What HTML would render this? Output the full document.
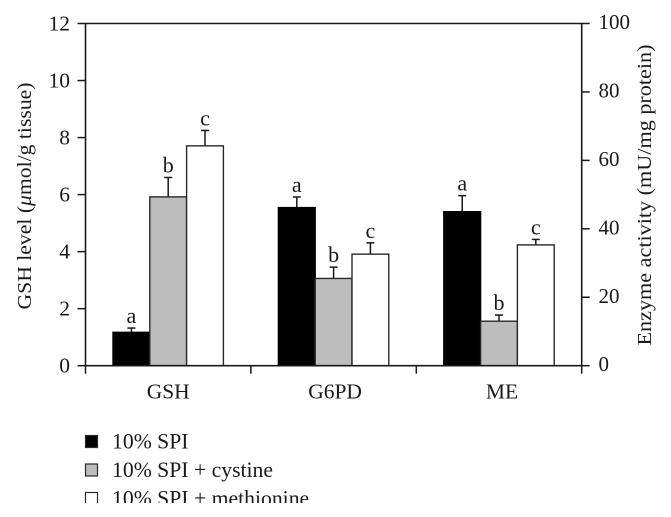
<!DOCTYPE html>
<html>
<head>
<meta charset="utf-8">
<style>
html,body{margin:0;padding:0;background:#fff}
svg{display:block}
text{font-family:"Liberation Serif",serif;fill:#1a1a1a}
</style>
</head>
<body>
<svg id="chart" width="671" height="517" viewBox="0 0 671 517" xmlns="http://www.w3.org/2000/svg">
<defs><clipPath id="legend-clip"><rect x="0" y="420" width="671" height="83"/></clipPath></defs>
<rect x="0" y="0" width="671" height="517" fill="#fff"/>
<text transform="translate(31,196) rotate(-90)" text-anchor="middle" font-size="20.5" textLength="227" lengthAdjust="spacingAndGlyphs">GSH level (<tspan font-style="italic">μ</tspan>mol/g tissue)</text>
<text transform="translate(651,195) rotate(-90)" text-anchor="middle" font-size="20.5" textLength="301" lengthAdjust="spacingAndGlyphs">Enzyme activity (mU/mg protein)</text>
<g id="marks"></g>
<g id="axes"></g>
<g id="legend" clip-path="url(#legend-clip)"></g>
</svg>
<script>
const categories = ["GSH", "G6PD", "ME"];
const seriesNames = ["10% SPI", "10% SPI + cystine", "10% SPI + methionine"];
const spiValues = [1.17, 46.2, 45];
const cystineValues = [5.92, 25.5, 13];
const methionineValues = [7.71, 32.6, 35.3];
const spiErrors = [0.15, 3.1, 4.7];
const cystineErrors = [0.68, 3.3, 1.8];
const methionineErrors = [0.54, 3.3, 1.6];
const spiLetters = ["a", "a", "a"];
const cystineLetters = ["b", "b", "b"];
const methionineLetters = ["c", "c", "c"];
const leftTicks = [0, 2, 4, 6, 8, 10, 12];
const rightTicks = [0, 20, 40, 60, 80, 100];

const NS = "http://www.w3.org/2000/svg";
const plot = {left: 85.5, right: 581.7, top: 23.5, bottom: 365.7};
const ink = "#1a1a1a";
const fills = ["#000000", "#bdbdbd", "#ffffff"];
const barWidth = 36.8;
const leftMax = 12, rightMax = 100;
const categoryLabelShift = [0, 1.5, 3];

function yLeft(v) { return plot.bottom - (v / leftMax) * (plot.bottom - plot.top); }
function yRight(v) { return plot.bottom - (v / rightMax) * (plot.bottom - plot.top); }
function yFor(groupIndex, v) { return groupIndex === 0 ? yLeft(v) : yRight(v); }
function bandWidth() { return (plot.right - plot.left) / categories.length; }
function xCenter(groupIndex) { return plot.left + bandWidth() * (groupIndex + 0.5); }
function xBar(groupIndex, seriesIndex) { return xCenter(groupIndex) + (seriesIndex - 1.5) * barWidth; }

function make(tag, attrs, parent, txt) {
  const el = document.createElementNS(NS, tag);
  for (const k in attrs) el.setAttribute(k, attrs[k]);
  if (txt !== undefined) el.textContent = txt;
  parent.appendChild(el);
  return el;
}

const marks = document.getElementById("marks");
const axes = document.getElementById("axes");
const legend = document.getElementById("legend");

const allValues = [spiValues, cystineValues, methionineValues];
const allErrors = [spiErrors, cystineErrors, methionineErrors];
const allLetters = [spiLetters, cystineLetters, methionineLetters];

allValues.forEach(function (values, s) {
  values.forEach(function (v, g) {
    const x = xBar(g, s);
    const yTop = yFor(g, v);
    const yErr = yFor(g, v + allErrors[s][g]);
    const cx = x + barWidth / 2;

    const stem = make("line", {x1: cx, x2: cx, y1: yTop, y2: yErr, stroke: ink, "stroke-width": 1.5}, marks);
    
    

    const cap = make("line", {x1: cx - 4, x2: cx + 4, y1: yErr, y2: yErr, stroke: ink, "stroke-width": 1.5}, marks);
    
    

    const bar = make("rect", {x: x, y: yTop, width: barWidth, height: plot.bottom - yTop, fill: fills[s], stroke: s === 0 ? "#000" : "#2a2a2a", "stroke-width": 1.4}, marks);
    
    

    const letter = make("text", {x: cx, y: yErr - 5, "text-anchor": "middle", "font-size": 22}, marks, allLetters[s][g]);
    
    
  });
});

const frame = make("path", {d: "M" + plot.left + " " + plot.top + "H" + plot.right + "V" + plot.bottom + "H" + plot.left + "Z", fill: "none", stroke: ink, "stroke-width": 1.6}, axes);



leftTicks.forEach(function (t) {
  const y = yLeft(t);
  const tick = make("line", {x1: plot.left - 8, x2: plot.left, y1: y, y2: y, stroke: ink, "stroke-width": 1.5}, axes);
  
  
  const label = make("text", {x: 70, y: y + 7, "text-anchor": "end", "font-size": 21.5}, axes, String(t));
  
  
});

rightTicks.forEach(function (t) {
  const y = yRight(t);
  const tick = make("line", {x1: plot.right, x2: plot.right + 8, y1: y, y2: y, stroke: ink, "stroke-width": 1.5}, axes);
  
  
  const label = make("text", {x: 598.5, y: y + 5.5, "text-anchor": "start", "font-size": 21}, axes, String(t));
  
  
});

for (let i = 0; i <= categories.length; i++) {
  const x = plot.left + bandWidth() * i;
  const tick = make("line", {x1: x, x2: x, y1: plot.bottom, y2: plot.bottom + 8, stroke: ink, "stroke-width": 1.5}, axes);
  
  
}

categories.forEach(function (c, g) {
  const label = make("text", {x: xCenter(g) + categoryLabelShift[g], y: 398.5, "text-anchor": "middle", "font-size": 21.5}, axes, c);
  
  
});

seriesNames.forEach(function (name, s) {
  const rowY = 441.5 + s * 28.5;
  const swatch = make("rect", {x: 85.5, y: rowY - 6, width: 12, height: 12, fill: fills[s], stroke: "#2a2a2a", "stroke-width": 1.2}, legend);
  
  
  const label = make("text", {x: 112, y: rowY + 7, "font-size": 21.7}, legend, name);
  
  
});
</script>
</body>
</html>
